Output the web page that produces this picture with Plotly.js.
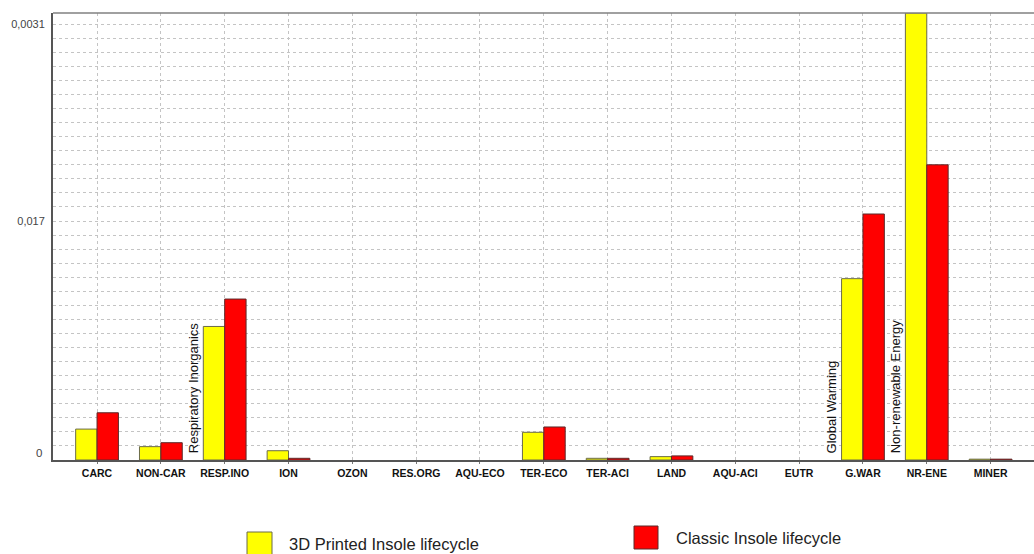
<!DOCTYPE html>
<html>
<head>
<meta charset="utf-8">
<script src="https://cdn.plot.ly/plotly-3.0.1.min.js"></script>
<style>html,body{margin:0;padding:0;background:#fff;}#chart{width:1034px;height:554px;}</style>
</head>
<body>
<div id="chart"></div>
<script>
// ---- data ----
const categories = ['CARC','NON-CAR','RESP.INO','ION','OZON','RES.ORG','AQU-ECO','TER-ECO','TER-ACI','LAND','AQU-ACI','EUTR','G.WAR','NR-ENE','MINER'];
const printedValues = [0.00022, 0.000095, 0.00095, 0.000066, 0, 0, 0, 0.000197, 0.000012, 0.000024, 0, 0, 0.00129, 0.00318, 0.000006];
const classicValues = [0.000336, 0.000123, 0.001145, 0.000012, 0, 0, 0, 0.000235, 0.000012, 0.000029, 0, 0, 0.00175, 0.0021, 0.000006];
const seriesNames = ['3D Printed Insole lifecycle', 'Classic Insole lifecycle'];
const yTickValues = [0.0017, 0.0031];
const yTickLabels = ['0,017', '0,0031'];
const zeroLabel = '0';
const barNotes = [
  {category: 'RESP.INO', text: 'Respiratory Inorganics'},
  {category: 'G.WAR', text: 'Global Warming'},
  {category: 'NR-ENE', text: 'Non-renewable Energy'}
];

// ---- style ----
const yellow = '#FFFF00', red = '#FF0000';
const yellowEdge = '#6b6b4a', redEdge = '#5a2a2a';
const W = 1034, H = 554, ML = 53, MR = 0, MT = 13, MB = 94;
const PW = W - ML - MR, PH = H - MT - MB;
const px = x => (x - ML) / PW;
const py = y => (H - MB - y) / PH;
const edgeWidths = vals => vals.map(v => (v > 0 ? 1 : 0));

const traces = [
  {type: 'bar', name: seriesNames[0], x: categories, y: printedValues,
   marker: {color: yellow, line: {color: yellowEdge, width: edgeWidths(printedValues)}}, showlegend: false},
  {type: 'bar', name: seriesNames[1], x: categories, y: classicValues,
   marker: {color: red, line: {color: redEdge, width: edgeWidths(classicValues)}}, showlegend: false}
];

const annotations = barNotes.map(n => ({
  x: n.category, y: 0, xref: 'x', yref: 'y', text: n.text, showarrow: false,
  textangle: -90, xanchor: 'center', yanchor: 'bottom', xshift: -31, yshift: 5,
  font: {family: 'Liberation Sans, Arial, sans-serif', size: 13, color: '#111'}
}));
annotations.push({x: 0, y: 0, xref: 'paper', yref: 'y', text: zeroLabel, showarrow: false,
  xanchor: 'right', yanchor: 'middle', xshift: -9, yshift: 7,
  font: {family: 'Liberation Sans, Arial, sans-serif', size: 11.5, color: '#444'}});
annotations.push({x: px(287), y: py(544), xref: 'paper', yref: 'paper', text: seriesNames[0], showarrow: false,
  xanchor: 'left', yanchor: 'middle', font: {family: 'Liberation Sans, Arial, sans-serif', size: 16.5, color: '#222'}});
annotations.push({x: px(674), y: py(538), xref: 'paper', yref: 'paper', text: seriesNames[1], showarrow: false,
  xanchor: 'left', yanchor: 'middle', font: {family: 'Liberation Sans, Arial, sans-serif', size: 16.5, color: '#222'}});

const shapes = [
  {type: 'line', xref: 'paper', yref: 'paper', x0: 0, x1: 1, y0: 1, y1: 1, line: {color: '#808080', width: 1.5}},
  {type: 'rect', xref: 'paper', yref: 'paper', x0: px(247), x1: px(272), y0: py(555), y1: py(532),
   fillcolor: yellow, line: {color: yellowEdge, width: 1}},
  {type: 'rect', xref: 'paper', yref: 'paper', x0: px(634), x1: px(658), y0: py(549), y1: py(526),
   fillcolor: red, line: {color: redEdge, width: 1}}
];

const layout = {
  width: W, height: H,
  margin: {l: ML, r: MR, t: MT, b: MB, pad: 0},
  paper_bgcolor: '#fff', plot_bgcolor: '#fff',
  barmode: 'group', bargap: 0.33, bargroupgap: 0,
  showlegend: false,
  xaxis: {
    type: 'category', range: [-0.69, 14.68], fixedrange: true,
    showline: true, linecolor: '#555', linewidth: 2,
    showgrid: true, gridcolor: '#c4c4c4', griddash: 'dot', gridwidth: 1,
    ticks: 'outside', ticklen: 2, tickcolor: '#777',
    tickfont: {family: 'Liberation Sans, Arial, sans-serif', size: 10.5, color: '#111', weight: 'bold'},
    zeroline: false
  },
  yaxis: {
    range: [0, 0.00318], fixedrange: true,
    tickmode: 'array', tickvals: yTickValues, ticktext: yTickLabels,
    showline: true, linecolor: '#555', linewidth: 2,
    showgrid: true, gridcolor: '#c4c4c4', griddash: 'dot', gridwidth: 1,
    ticks: '', ticklabelstandoff: 4,
    tickfont: {family: 'Liberation Sans, Arial, sans-serif', size: 11, color: '#444'},
    minor: {tick0: 0, dtick: 0.0001, showgrid: true, gridcolor: '#c4c4c4', griddash: 'dot', gridwidth: 1, ticks: ''},
    zeroline: false
  },
  annotations: annotations,
  shapes: shapes
};

Plotly.newPlot('chart', traces, layout, {displayModeBar: false, staticPlot: true});
</script>
</body>
</html>
